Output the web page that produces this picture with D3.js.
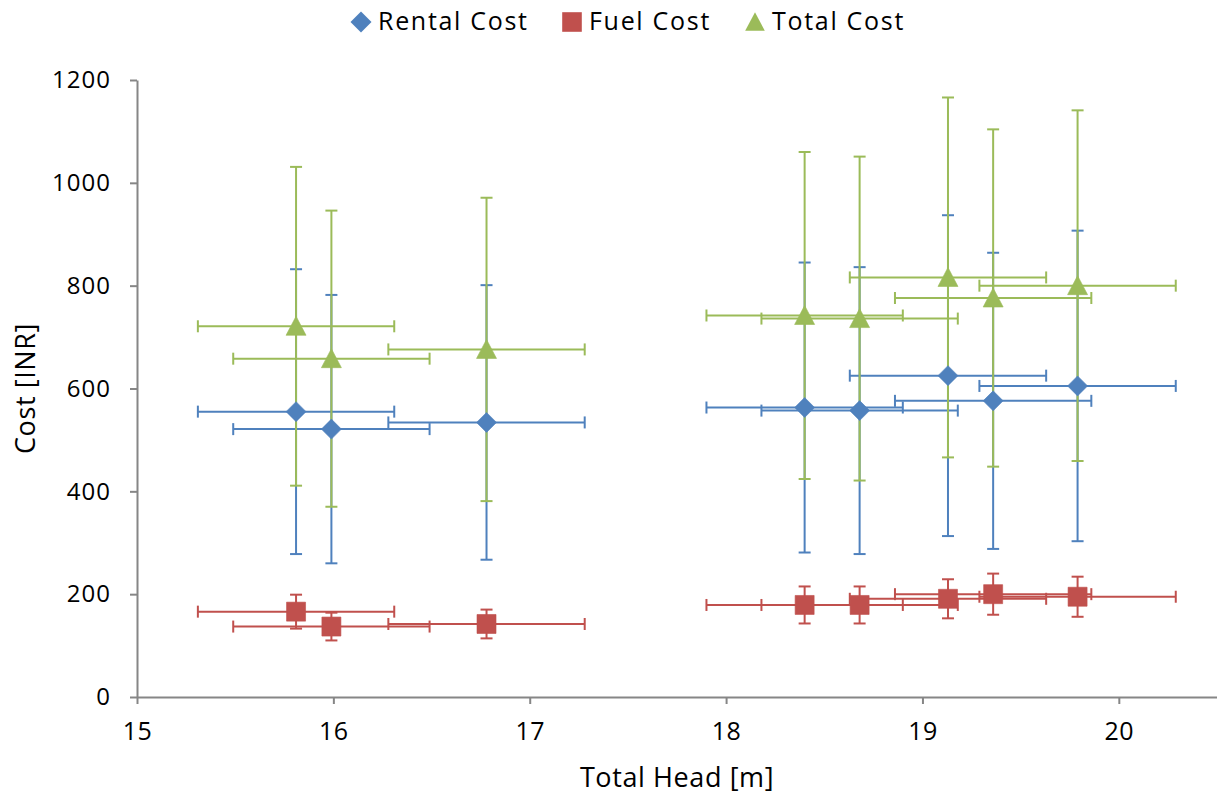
<!DOCTYPE html>
<html lang="en">
<head>
  <meta charset="UTF-8">
  <title>cost vs head</title>
  <script src="https://d3js.org/d3.v7.min.js"></script>
  <style>
    body { margin: 0; background: #fff; }
    svg text { font-family: "Open Sans", "DejaVu Sans", sans-serif; fill: #000; }
  </style>
</head>
<body>
  <svg id="chart" width="1217" height="796"></svg>
  <script>
    // data
    const seriesNames = ["Rental Cost", "Fuel Cost", "Total Cost"];
    const head = [15.81, 15.99, 16.78, 18.40, 18.68, 19.13, 19.36, 19.79];
    const headErr = [0.5, 0.5, 0.5, 0.5, 0.5, 0.5, 0.5, 0.5];
    const rental = [555, 521, 534, 563, 557, 625, 576, 605];
    const rentalErr = [277, 261, 267, 282, 279, 312, 288, 302];
    const fuel = [166, 137, 142, 179, 179, 191, 200, 195];
    const fuelErr = [33, 27, 28, 36, 36, 38, 40, 39];
    const total = [721, 658, 676, 742, 736, 816, 776, 800];
    const totalErr = [310, 288, 295, 318, 315, 350, 328, 341];
    const xTicks = [15, 16, 17, 18, 19, 20];
    const yTicks = [0, 200, 400, 600, 800, 1000, 1200];

    const svg = d3.select("#chart");
    const margin = { top: 80, right: 0, bottom: 99, left: 137 };
    const width = +svg.attr("width");
    const height = +svg.attr("height");

    const x = d3.scaleLinear().domain([15, 20.5]).range([margin.left, width - margin.right]);
    const y = d3.scaleLinear().domain([0, 1200]).range([height - margin.bottom, margin.top]);

    // marker outlines, r = half width
    const shapes = {
      diamond: r => `M0,${-r}L${r},0L0,${r}L${-r},0Z`,
      square: r => `M${-r},${-r}H${r}V${r}H${-r}Z`,
      triangle: r => `M0,${-r}L${r},${r * 0.9}L${-r},${r * 0.9}Z`
    };

    const colors = ["#4F81BD", "#C0504D", "#9BBB59"];
    const series = [
      { name: seriesNames[0], vals: rental, err: rentalErr, color: colors[0], shape: shapes.diamond },
      { name: seriesNames[1], vals: fuel, err: fuelErr, color: colors[1], shape: shapes.square },
      { name: seriesNames[2], vals: total, err: totalErr, color: colors[2], shape: shapes.triangle }
    ];

    // axes
    const yAxis = svg.append("g")
      .attr("transform", `translate(${margin.left},0)`)
      .call(d3.axisLeft(y).tickValues(yTicks).tickFormat(d3.format("d"))
        .tickSize(7).tickSizeOuter(0).tickPadding(19));
    const xAxis = svg.append("g")
      .attr("transform", `translate(0,${height - margin.bottom})`)
      .call(d3.axisBottom(x).tickValues(xTicks).tickFormat(d3.format("d"))
        .tickSize(7).tickSizeOuter(0).tickPadding(18));
    [xAxis, yAxis].forEach(a => {
      a.select(".domain").attr("stroke", "#868686").attr("stroke-width", 2);
      a.selectAll(".tick line").attr("stroke", "#868686").attr("stroke-width", 2);
      a.selectAll(".tick text").attr("fill", "#000");
    });
    yAxis.selectAll(".tick text").style("font-size", "24px").style("letter-spacing", "1px");
    xAxis.selectAll(".tick text").style("font-size", "25px").style("letter-spacing", "0.5px");

    svg.append("text")
      .attr("x", 677)
      .attr("y", 787)
      .attr("text-anchor", "middle")
      .style("font-size", "27px")
      .style("letter-spacing", "0.6px")
      .text("Total Head [m]");
    svg.append("text")
      .attr("transform", `translate(35,${y(600)}) rotate(-90)`)
      .attr("text-anchor", "middle")
      .style("font-size", "27px")
      .style("letter-spacing", "0.6px")
      .text("Cost [INR]");

    // error bars first, then markers on top
    const cap = 6;
    const bars = svg.append("g");
    series.forEach(s => {
      const g = bars.append("g").attr("stroke", s.color).attr("stroke-width", 2).attr("fill", "none");
      head.forEach((h, i) => {
        const cx = x(h), cy = y(s.vals[i]);
        const x0 = x(h - headErr[i]), x1 = x(h + headErr[i]);
        const y0 = y(s.vals[i] - s.err[i]), y1 = y(s.vals[i] + s.err[i]);
        g.append("line").attr("x1", x0).attr("x2", x1).attr("y1", cy).attr("y2", cy);
        g.append("line").attr("x1", x0).attr("x2", x0).attr("y1", cy - cap).attr("y2", cy + cap);
        g.append("line").attr("x1", x1).attr("x2", x1).attr("y1", cy - cap).attr("y2", cy + cap);
        g.append("line").attr("x1", cx).attr("x2", cx).attr("y1", y0).attr("y2", y1);
        g.append("line").attr("x1", cx - cap).attr("x2", cx + cap).attr("y1", y0).attr("y2", y0);
        g.append("line").attr("x1", cx - cap).attr("x2", cx + cap).attr("y1", y1).attr("y2", y1);
      });
    });

    const radius = [10, 9.5, 10];
    const marks = svg.append("g");
    series.forEach((s, k) => {
      marks.append("g").selectAll("path")
        .data(head.map((h, i) => [h, s.vals[i]]))
        .join("path")
        .attr("transform", d => `translate(${x(d[0])},${y(d[1])})`)
        .attr("d", s.shape(radius[k]))
        .attr("fill", s.color)
        .attr("stroke", s.color)
        .attr("stroke-opacity", 0.6)
        .attr("stroke-width", 1)
        .attr("stroke-linejoin", "round");
    });

    // legend
    const legendX = [361, 572, 755];
    const legend = svg.append("g");
    series.forEach((s, k) => {
      legend.append("path")
        .attr("transform", `translate(${legendX[k]},22)`)
        .attr("d", s.shape(k === 0 ? 10.5 : 9.8))
        .attr("fill", s.color);
      legend.append("text")
        .attr("x", legendX[k] + 17)
        .attr("y", 30)
        .style("font-size", "25px")
        .style("letter-spacing", "1.7px")
        .text(s.name);
    });
  </script>
</body>
</html>
